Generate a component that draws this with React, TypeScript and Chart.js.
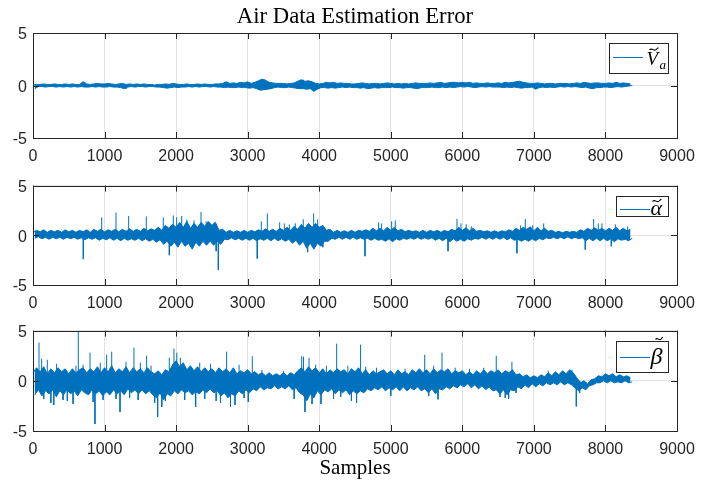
import React, { useEffect, useRef } from "react";
import { Chart, registerables } from "chart.js";

Chart.register(...registerables);

// ---------------- data ----------------
const TITLE = "Air Data Estimation Error";
const X_LABEL = "Samples";
const X_TICKS = [0, 1000, 2000, 3000, 4000, 5000, 6000, 7000, 8000, 9000];
const Y_TICKS = [-5, 0, 5];
const SAMPLE_STEP = 50; // band edges read every 50 samples (upper at k*50, lower at k*50+25)

// Va error: upper / lower edge of the noise band
const vaHigh = [
  0.05, 0.1, 0.1, 0.15, 0.1, 0.1, 0.15, 0.1, 0.1, 0.15,
  0.1, 0.15, 0.1, 0.1, 0.35, 0.15, 0.1, 0.15, 0.2, 0.15,
  0.15, 0.2, 0.15, 0.1, 0.15, 0.2, 0.1, 0.15, 0.1, 0.15,
  0.1, 0.15, 0.1, 0.1, 0.05, 0.1, 0.1, 0.15, 0.1, 0.2,
  0.15, 0.1, 0.1, 0.15, 0.1, 0.1, 0.15, 0.1, 0.15, 0.1,
  0.1, 0.15, 0.15, 0.2, 0.35, 0.2, 0.25, 0.2, 0.3, 0.25,
  0.35, 0.2, 0.3, 0.45, 0.6, 0.5, 0.3, 0.25, 0.2, 0.2,
  0.2, 0.15, 0.2, 0.25, 0.4, 0.55, 0.4, 0.45, 0.35, 0.2,
  0.15, 0.2, 0.3, 0.25, 0.3, 0.2, 0.25, 0.2, 0.2, 0.15,
  0.15, 0.2, 0.25, 0.2, 0.15, 0.2, 0.2, 0.15, 0.2, 0.25,
  0.2, 0.15, 0.2, 0.15, 0.2, 0.15, 0.2, 0.25, 0.2, 0.2,
  0.2, 0.25, 0.2, 0.25, 0.3, 0.2, 0.25, 0.3, 0.3, 0.25,
  0.3, 0.25, 0.3, 0.2, 0.25, 0.2, 0.2, 0.25, 0.2, 0.2,
  0.25, 0.2, 0.3, 0.25, 0.3, 0.35, 0.4, 0.3, 0.25, 0.2,
  0.2, 0.25, 0.2, 0.15, 0.2, 0.2, 0.15, 0.2, 0.2, 0.2,
  0.15, 0.2, 0.25, 0.2, 0.3, 0.25, 0.2, 0.25, 0.25, 0.2,
  0.2, 0.25, 0.2, 0.3, 0.2, 0.25, 0.2, 0.15,
];
const vaLow = [
  -0.3, -0.1, -0.1, -0.15, -0.1, -0.1, -0.15, -0.1, -0.15, -0.1,
  -0.15, -0.1, -0.15, -0.1, -0.15, -0.15, -0.1, -0.15, -0.1, -0.15,
  -0.15, -0.1, -0.15, -0.15, -0.2, -0.3, -0.15, -0.1, -0.15, -0.1,
  -0.1, -0.15, -0.1, -0.1, -0.15, -0.15, -0.2, -0.25, -0.2, -0.15,
  -0.2, -0.15, -0.15, -0.1, -0.15, -0.1, -0.15, -0.1, -0.1, -0.15,
  -0.1, -0.15, -0.15, -0.2, -0.15, -0.2, -0.2, -0.15, -0.2, -0.2,
  -0.25, -0.2, -0.3, -0.45, -0.4, -0.35, -0.3, -0.2, -0.15, -0.2,
  -0.2, -0.15, -0.2, -0.25, -0.3, -0.3, -0.35, -0.3, -0.55, -0.35,
  -0.2, -0.2, -0.25, -0.2, -0.25, -0.2, -0.15, -0.2, -0.15, -0.2,
  -0.2, -0.25, -0.2, -0.3, -0.25, -0.2, -0.25, -0.2, -0.2, -0.2,
  -0.15, -0.2, -0.2, -0.25, -0.2, -0.2, -0.25, -0.3, -0.2, -0.2,
  -0.2, -0.15, -0.2, -0.2, -0.15, -0.2, -0.15, -0.2, -0.15, -0.1,
  -0.15, -0.1, -0.15, -0.2, -0.15, -0.1, -0.15, -0.1, -0.15, -0.15,
  -0.15, -0.2, -0.15, -0.2, -0.15, -0.2, -0.25, -0.2, -0.2, -0.15,
  -0.35, -0.2, -0.15, -0.2, -0.15, -0.2, -0.15, -0.1, -0.15, -0.1,
  -0.15, -0.1, -0.15, -0.2, -0.15, -0.25, -0.3, -0.2, -0.2, -0.15,
  -0.15, -0.2, -0.15, -0.1, -0.15, -0.1, -0.05, 0.0,
];
const vaSpikes: [number, number][] = [
  [700, 0.35], [1300, -0.3], [3230, 0.6], [3780, 0.55], [3920, -0.55],
];

// alpha error
const alphaHigh = [
  0.3, 0.5, 0.35, 0.55, 0.3, 0.5, 0.35, 0.5, 0.3, 0.55,
  0.35, 0.5, 0.3, 0.5, 0.35, 0.55, 0.3, 0.6, 0.4, 0.6,
  0.35, 0.55, 0.4, 0.6, 0.35, 0.6, 0.4, 0.65, 0.4, 0.6,
  0.4, 0.7, 0.45, 0.65, 0.5, 0.8, 0.5, 1.0, 0.7, 1.1,
  0.8, 1.3, 0.8, 1.4, 0.7, 1.2, 0.8, 1.3, 0.9, 1.4,
  1.0, 1.3, 0.5, 0.6, 0.3, 0.5, 0.3, 0.45, 0.3, 0.5,
  0.3, 0.5, 0.35, 0.55, 0.4, 0.65, 0.4, 0.6, 0.4, 0.7,
  0.5, 0.8, 0.5, 0.9, 0.6, 1.1, 0.7, 1.2, 0.8, 1.2,
  0.8, 1.0, 0.5, 0.6, 0.3, 0.5, 0.3, 0.45, 0.3, 0.5,
  0.3, 0.5, 0.4, 0.55, 0.4, 0.7, 0.45, 0.7, 0.45, 0.8,
  0.5, 0.8, 0.45, 0.6, 0.35, 0.5, 0.35, 0.45, 0.3, 0.5,
  0.3, 0.5, 0.35, 0.5, 0.3, 0.5, 0.35, 0.6, 0.45, 0.8,
  0.5, 0.75, 0.45, 0.7, 0.4, 0.5, 0.35, 0.45, 0.3, 0.45,
  0.3, 0.45, 0.35, 0.55, 0.4, 0.7, 0.5, 0.8, 0.6, 0.85,
  0.45, 0.8, 0.45, 0.7, 0.4, 0.5, 0.3, 0.4, 0.25, 0.4,
  0.3, 0.4, 0.3, 0.55, 0.4, 0.7, 0.5, 0.75, 0.5, 0.7,
  0.45, 0.7, 0.5, 0.8, 0.45, 0.7, 0.45, 0.6,
];
const alphaLow = [
  -0.3, -0.15, -0.35, -0.2, -0.4, -0.2, -0.35, -0.2, -0.4, -0.2,
  -0.35, -0.2, -0.4, -0.25, -0.45, -0.25, -0.4, -0.25, -0.5, -0.3,
  -0.45, -0.25, -0.5, -0.3, -0.55, -0.3, -0.5, -0.35, -0.5, -0.3,
  -0.55, -0.35, -0.6, -0.4, -0.7, -0.45, -0.9, -0.6, -1.1, -0.7,
  -1.2, -0.6, -1.1, -0.8, -1.4, -0.7, -1.1, -0.6, -1.0, -0.6,
  -1.0, -0.6, -0.9, -0.4, -0.45, -0.25, -0.45, -0.3, -0.5, -0.3,
  -0.5, -0.3, -0.55, -0.35, -0.5, -0.3, -0.55, -0.3, -0.55, -0.35,
  -0.6, -0.4, -0.8, -0.5, -1.0, -0.6, -1.3, -0.8, -1.4, -0.8,
  -1.1, -0.6, -0.6, -0.3, -0.4, -0.2, -0.4, -0.2, -0.4, -0.2,
  -0.4, -0.25, -0.4, -0.3, -0.5, -0.3, -0.5, -0.4, -0.6, -0.35,
  -0.65, -0.35, -0.5, -0.3, -0.4, -0.25, -0.4, -0.2, -0.4, -0.25,
  -0.4, -0.25, -0.5, -0.3, -0.55, -0.3, -0.65, -0.35, -0.6, -0.4,
  -0.6, -0.35, -0.5, -0.3, -0.4, -0.2, -0.4, -0.2, -0.4, -0.2,
  -0.4, -0.2, -0.45, -0.25, -0.5, -0.4, -0.6, -0.4, -0.6, -0.35,
  -0.55, -0.3, -0.45, -0.25, -0.35, -0.2, -0.35, -0.2, -0.35, -0.15,
  -0.35, -0.2, -0.35, -0.25, -0.55, -0.3, -0.55, -0.3, -0.55, -0.3,
  -0.55, -0.35, -0.65, -0.35, -0.5, -0.4, -0.55, -0.3,
];
const alphaSpikes: [number, number][] = [
  [703, -2.4], [960, 1.8], [1160, 2.3], [1337, 1.95], [1583, 1.9], [1821, 1.8],
  [1905, -2.0], [1961, 2.0], [2008, 1.8], [2078, 1.95], [2150, 1.6], [2250, 1.5],
  [2348, 2.35], [2420, 1.4], [2530, 1.3], [2560, -1.6], [2590, -3.5],
  [3134, -2.35], [3191, 1.4], [3275, 2.2], [3447, 1.3], [3512, 1.2], [3582, 1.1],
  [3666, 1.2], [3777, 1.6], [3838, -1.7], [3922, 2.2], [3978, 1.6], [4050, -1.2],
  [4640, -2.1], [4830, 1.3], [4872, 1.2], [5012, 1.4], [5063, 1.5],
  [5800, -1.6], [5925, 1.65], [5981, 1.2], [6055, 1.1], [6125, 0.9],
  [6763, -1.8], [6815, 1.0], [6880, 1.65], [6985, 1.0], [7137, 1.2],
  [7718, -1.45], [7835, 1.65], [7900, 1.2], [7951, 1.2], [8082, -1.1], [8138, 1.1], [8310, 0.9],
];

// beta error
const betaHigh = [
  0.8, 1.3, 0.9, 1.4, 0.7, 1.2, 0.8, 1.3, 0.9, 1.2,
  0.7, 1.2, 0.8, 1.1, 1.3, 0.8, 1.2, 0.9, 1.4, 0.8,
  1.3, 0.9, 1.5, 0.8, 1.2, 0.9, 1.4, 0.8, 1.3, 0.9,
  1.2, 0.8, 1.3, 0.9, 0.7, 1.0, 0.6, 1.1, 0.9, 1.6,
  2.0, 1.4, 1.8, 1.1, 1.5, 1.0, 1.4, 0.9, 1.3, 0.9,
  1.2, 0.8, 1.3, 0.9, 1.2, 0.8, 1.3, 0.7, 1.0, 0.8,
  1.1, 0.7, 0.9, 0.6, 0.8, 0.5, 0.8, 0.5, 0.7, 0.5,
  0.8, 0.5, 0.8, 0.6, 1.0, 1.3, 0.9, 1.4, 1.0, 1.3,
  0.8, 1.2, 0.7, 1.1, 0.8, 1.2, 0.9, 1.1, 0.7, 1.2,
  0.9, 1.3, 0.7, 1.1, 0.6, 1.0, 0.7, 0.9, 1.1, 0.7,
  1.0, 0.6, 1.1, 0.7, 0.9, 0.6, 1.1, 0.8, 1.2, 0.8,
  1.1, 0.7, 1.2, 0.8, 1.1, 0.9, 1.2, 0.7, 1.0, 0.8,
  1.0, 0.6, 0.9, 0.6, 1.0, 0.7, 1.1, 0.7, 1.0, 0.8,
  1.1, 0.7, 1.0, 0.8, 1.1, 0.6, 0.7, 0.4, 0.6, 0.3,
  0.5, 0.3, 0.6, 0.4, 0.8, 0.5, 0.9, 0.6, 1.0, 0.7,
  1.1, 0.8, 0.3, -0.2, 0.0, -0.3, 0.1, 0.2, 0.5, 0.4,
  0.7, 0.5, 0.7, 0.4, 0.6, 0.4, 0.5, 0.3,
];
const betaLow = [
  -1.4, -0.9, -1.5, -1.0, -1.3, -0.9, -1.6, -1.0, -1.4, -0.9,
  -1.3, -1.0, -1.5, -0.9, -1.2, -1.4, -0.9, -1.3, -1.0, -1.5,
  -1.1, -1.4, -0.9, -1.3, -1.0, -1.4, -0.8, -1.2, -0.9, -1.3,
  -0.9, -1.3, -1.0, -1.4, -1.7, -1.2, -1.9, -1.3, -1.5, -1.0,
  -1.3, -0.9, -1.2, -1.0, -1.4, -1.1, -1.3, -0.9, -1.2, -0.8,
  -1.2, -1.0, -1.5, -1.2, -1.7, -1.3, -1.5, -1.0, -1.3, -0.9,
  -1.2, -0.8, -1.0, -0.6, -0.9, -0.7, -0.8, -0.5, -0.8, -0.6,
  -0.8, -0.5, -0.9, -0.7, -1.2, -1.4, -2.0, -1.3, -1.7, -1.0,
  -1.4, -0.9, -1.1, -0.8, -1.3, -0.9, -1.2, -0.9, -1.4, -1.0,
  -1.3, -1.0, -1.2, -0.8, -1.0, -0.7, -0.9, -0.6, -1.0, -0.7,
  -0.9, -0.6, -1.0, -0.6, -1.0, -0.7, -0.9, -0.6, -1.0, -0.8,
  -1.2, -0.8, -1.3, -0.8, -0.9, -0.6, -0.8, -0.5, -0.7, -0.4,
  -0.6, -0.3, -0.7, -0.4, -0.8, -0.5, -0.9, -0.6, -1.0, -0.9,
  -1.3, -0.9, -1.4, -0.9, -1.0, -0.6, -0.8, -0.4, -0.7, -0.3,
  -0.6, -0.3, -0.5, -0.2, -0.4, -0.2, -0.4, -0.1, -0.4, -0.2,
  -0.4, -0.7, -1.0, -0.7, -0.9, -0.5, -0.4, -0.2, -0.2, 0.0,
  -0.2, 0.0, -0.2, -0.1, -0.2, 0.0, -0.2, -0.1,
];
const betaSpikes: [number, number][] = [
  [84, 3.8], [121, 2.2], [150, -1.8], [200, 2.1], [250, -2.2], [290, -2.4], [330, 1.7],
  [420, -1.9], [480, -2.0], [560, -2.3], [600, 1.5], [633, 5.0], [700, 1.6], [797, 2.8],
  [840, -2.1], [866, -4.3], [940, 1.8], [980, -1.9], [1029, 2.6], [1100, 2.9], [1160, -1.8],
  [1216, -3.1], [1300, 1.9], [1350, -1.7], [1411, 3.3], [1470, -1.9], [1500, 1.8], [1588, 2.5],
  [1650, 1.5], [1700, -2.2], [1742, -3.6], [1800, -2.6], [1850, -2.0], [1905, 2.3], [1970, 3.2],
  [2010, 2.8], [2060, 2.3], [2120, -1.9], [2273, -2.6], [2330, 1.8], [2400, -1.8], [2480, 1.7],
  [2560, -2.0], [2620, -2.2], [2706, 2.9], [2760, -2.6], [2823, -2.4], [2880, 1.6], [2950, -1.7],
  [3009, -2.1], [3065, 2.45], [3200, 1.1], [3500, 1.0], [3650, -1.8], [3755, 2.45], [3780, 2.4],
  [3801, -3.1], [3858, 2.3], [3900, -2.3], [3950, 1.6], [4025, -2.3], [4100, 1.5], [4200, -1.8],
  [4244, 3.7], [4300, -1.6], [4400, 1.5], [4450, -2.0], [4522, -2.2], [4578, 3.6], [4650, 1.4],
  [4800, 1.3], [5000, -1.5], [5200, 1.2], [5474, 2.6], [5530, -1.5], [5600, 1.5], [5660, -1.85],
  [5716, 2.8], [5900, 1.3], [6100, 1.2], [6300, 1.3], [6474, 2.5], [6526, -1.6], [6600, -1.7],
  [6647, -1.8], [6693, 1.9], [6750, -1.2], [7200, 1.0], [7532, 1.1], [7593, -2.55], [7640, -1.2],
];

// ---------------- styles ----------------
const LINE_COLOR = "#0072BD";
const AXIS_COLOR = "#262626";
const GRID_COLOR = "#e3e3e3";
const TICK_LEN = 6;
const SANS = '"Liberation Sans", Arial, sans-serif';
const SERIF = '"Liberation Serif", "Times New Roman", serif';

function edgePoints(values: number[], shift: number) {
  return values.map((v, i) => ({ x: i * SAMPLE_STEP + shift, y: v }));
}
function spikePoints(spikes: [number, number][]) {
  const pts: { x: number; y: number | null }[] = [];
  for (const [s, v] of spikes) {
    pts.push({ x: s, y: 0 });
    pts.push({ x: s, y: v });
    pts.push({ x: s, y: null });
  }
  return pts;
}

type Panel = {
  key: string;
  high: number[];
  low: number[];
  spikes: [number, number][];
  top: number;
  height: number;
  padTop: number;
  xAxisH: number;
  legend: "Va" | "alpha" | "beta";
  legendW: number;
  legendH: number;
  legendLineY: number;
  title?: string;
  xLabel?: string;
};

const PANELS: Panel[] = [
  { key: "va", high: vaHigh, low: vaLow, spikes: vaSpikes, top: 0, height: 170, padTop: 33, xAxisH: 32, legend: "Va", legendW: 59, legendH: 30, legendLineY: 14, title: TITLE },
  { key: "alpha", high: alphaHigh, low: alphaLow, spikes: alphaSpikes, top: 170, height: 145, padTop: 10, xAxisH: 30, legend: "alpha", legendW: 52, legendH: 20, legendLineY: 13, },
  { key: "beta", high: betaHigh, low: betaLow, spikes: betaSpikes, top: 315, height: 168, padTop: 11, xAxisH: 52, legend: "beta", legendW: 52, legendH: 31, legendLineY: 16, xLabel: X_LABEL },
];

function drawTilde(ctx: CanvasRenderingContext2D, x: number, y: number, w: number) {
  ctx.save();
  ctx.strokeStyle = "#000";
  ctx.lineWidth = 1.1;
  ctx.beginPath();
  ctx.moveTo(x, y + 1);
  ctx.bezierCurveTo(x + w * 0.25, y - 2, x + w * 0.5, y + 3, x + w * 0.75, y + 0.5);
  ctx.quadraticCurveTo(x + w * 0.9, y - 1, x + w, y - 1.2);
  ctx.stroke();
  ctx.restore();
}

const framePlugin = {
  id: "frame",
  afterDraw(chart: any, _args: any, opts: any) {
    const p: Panel = opts.panel;
    if (!p) return;
    const { ctx, chartArea: a, scales } = chart;
    const xs = scales.x;
    const ys = scales.y;
    ctx.save();
    ctx.strokeStyle = AXIS_COLOR;
    ctx.lineWidth = 1;
    ctx.beginPath();
    for (const v of X_TICKS) {
      const px = Math.round(xs.getPixelForValue(v)) + 0.5;
      ctx.moveTo(px, a.bottom);
      ctx.lineTo(px, a.bottom - TICK_LEN);
      ctx.moveTo(px, a.top);
      ctx.lineTo(px, a.top + TICK_LEN);
    }
    for (const v of Y_TICKS) {
      const py = Math.round(ys.getPixelForValue(v)) + 0.5;
      ctx.moveTo(a.left, py);
      ctx.lineTo(a.left + TICK_LEN, py);
      ctx.moveTo(a.right, py);
      ctx.lineTo(a.right - TICK_LEN, py);
    }
    ctx.stroke();
    ctx.strokeRect(Math.round(a.left) + 0.5, Math.round(a.top) + 0.5, Math.round(a.right - a.left), Math.round(a.bottom - a.top));

    // legend box
    const bx = Math.round(a.right - 9.5 - p.legendW) + 0.5;
    const by = Math.round(a.top + 10) + 0.5;
    ctx.fillStyle = "#fff";
    ctx.fillRect(bx, by, p.legendW, p.legendH);
    ctx.strokeStyle = AXIS_COLOR;
    ctx.lineWidth = 1;
    ctx.strokeRect(bx, by, p.legendW, p.legendH);
    const ly = by + p.legendLineY;
    ctx.strokeStyle = LINE_COLOR;
    ctx.beginPath();
    ctx.moveTo(bx + 3.5, ly);
    ctx.lineTo(bx + 33.5, ly);
    ctx.stroke();
    ctx.fillStyle = "#000";
    ctx.textAlign = "left";
    ctx.textBaseline = "alphabetic";
    if (p.legend === "Va") {
      ctx.font = `italic 19px ${SERIF}`;
      ctx.fillText("V", bx + 37, by + 21.5);
      drawTilde(ctx, bx + 40, by + 5.5, 9);
      ctx.font = `italic 13px ${SERIF}`;
      ctx.fillText("a", bx + 50, by + 25);
    } else if (p.legend === "alpha") {
      ctx.font = `italic 22px ${SERIF}`;
      ctx.fillText("\u03B1", bx + 34, by + 18);
      drawTilde(ctx, bx + 36, by + 4, 9);
    } else {
      ctx.font = `italic 24px ${SERIF}`;
      ctx.fillText("\u03B2", bx + 34, by + 22);
      drawTilde(ctx, bx + 39, by - 3, 7.5);
    }

    if (p.title) {
      ctx.font = `22.7px ${SERIF}`;
      ctx.textAlign = "center";
      ctx.fillStyle = "#000";
      ctx.fillText(p.title, (a.left + a.right) / 2, 23);
    }
    if (p.xLabel) {
      ctx.font = `21px ${SERIF}`;
      ctx.textAlign = "center";
      ctx.fillStyle = "#000";
      ctx.fillText(p.xLabel, (a.left + a.right) / 2, 474 - p.top);
    }
    ctx.restore();
  },
};

function PanelChart({ panel }: { panel: Panel }) {
  const ref = useRef<HTMLCanvasElement | null>(null);
  useEffect(() => {
    if (!ref.current) return;
    const chart = new Chart(ref.current, {
      type: "line",
      data: {
        datasets: [
          {
            data: edgePoints(panel.high, 0),
            borderColor: LINE_COLOR,
            backgroundColor: LINE_COLOR,
            borderWidth: 1,
            pointRadius: 0,
            tension: 0,
            fill: "+1",
          },
          {
            data: edgePoints(panel.low, SAMPLE_STEP / 2),
            borderColor: LINE_COLOR,
            borderWidth: 1,
            pointRadius: 0,
            tension: 0,
            fill: false,
          },
          {
            data: spikePoints(panel.spikes),
            borderColor: LINE_COLOR,
            borderWidth: 1,
            pointRadius: 0,
            tension: 0,
            fill: false,
            spanGaps: false,
          },
        ],
      },
      options: {
        animation: false,
        responsive: false,
        devicePixelRatio: 1,
        layout: { padding: { left: 0, right: 47, top: panel.padTop, bottom: 0 } },
        plugins: {
          legend: { display: false },
          tooltip: { enabled: false },
          title: { display: false },
          frame: { panel },
        } as any,
        scales: {
          x: {
            type: "linear",
            min: 0,
            max: 9000,
            offset: false,
            afterBuildTicks: (s: any) => {
              s.ticks = X_TICKS.map((v) => ({ value: v }));
            },
            afterFit: (s: any) => {
              s.height = panel.xAxisH;
            },
            ticks: {
              color: AXIS_COLOR,
              font: { family: SANS, size: 16 },
              padding: 9,
              maxRotation: 0,
              autoSkip: false,
              callback: (v: any) => String(v),
            },
            grid: { color: GRID_COLOR, drawTicks: false, lineWidth: 1, offset: false },
            border: { display: false },
          },
          y: {
            type: "linear",
            min: -5,
            max: 5,
            afterBuildTicks: (s: any) => {
              s.ticks = Y_TICKS.map((v) => ({ value: v }));
            },
            afterFit: (s: any) => {
              s.width = 33;
            },
            ticks: {
              color: AXIS_COLOR,
              font: { family: SANS, size: 16 },
              padding: 6,
              labelOffset: 2,
              callback: (v: any) => String(v),
            },
            grid: { color: GRID_COLOR, drawTicks: false, lineWidth: 1 },
            border: { display: false },
          },
        },
      } as any,
      plugins: [framePlugin],
    });
    return () => chart.destroy();
  }, [panel]);
  return (
    <canvas
      ref={ref}
      width={724}
      height={panel.height}
      style={{ position: "absolute", left: 0, top: panel.top, width: 724, height: panel.height }}
    />
  );
}

export default function App() {
  return (
    <div style={{ position: "fixed", left: 0, top: 0, width: 724, height: 483, background: "#fff" }}>
      {PANELS.map((p) => (
        <PanelChart key={p.key} panel={p} />
      ))}
    </div>
  );
}
